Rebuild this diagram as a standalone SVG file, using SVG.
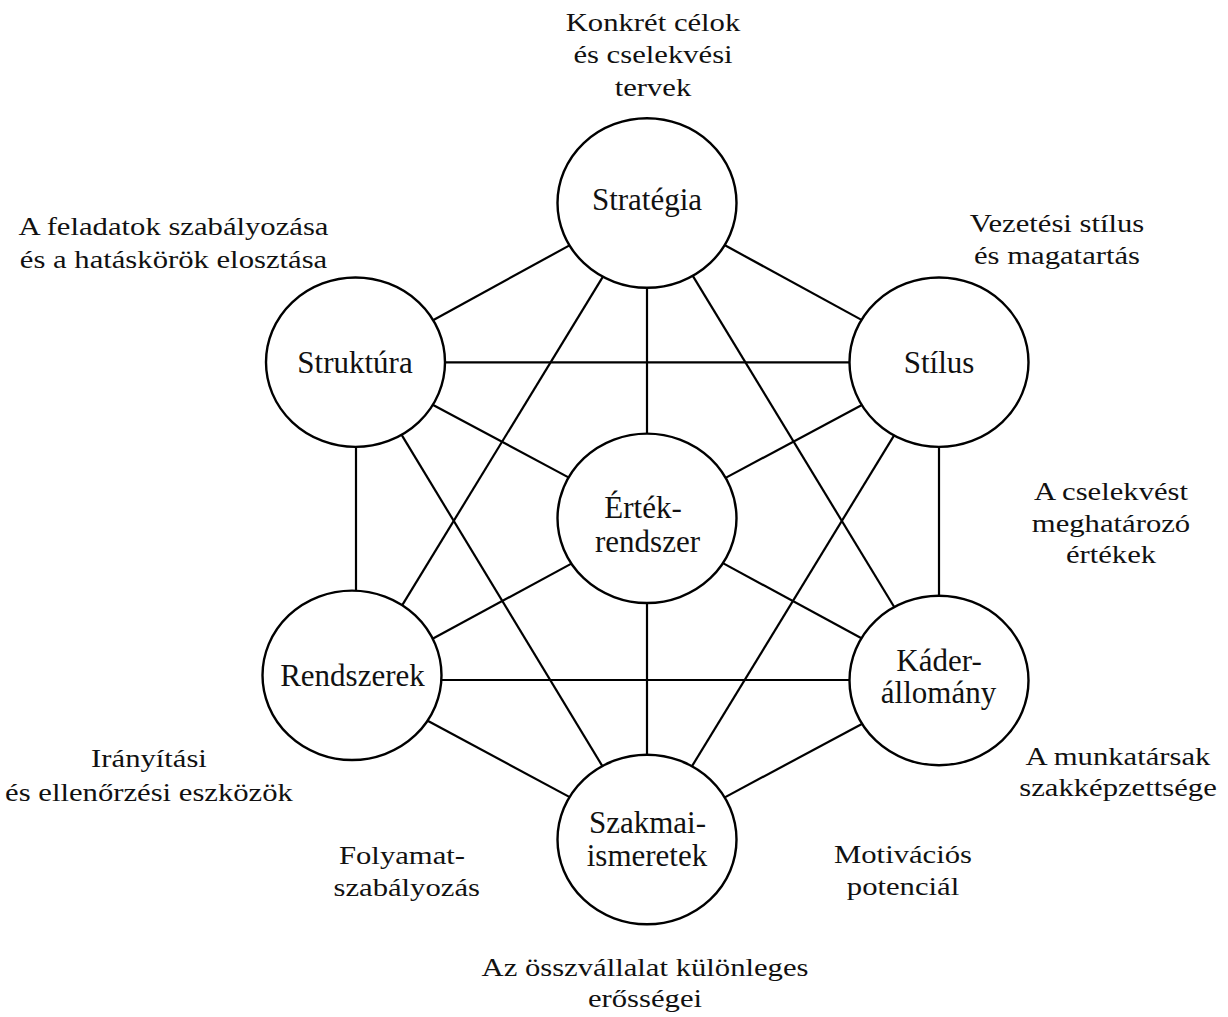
<svg xmlns="http://www.w3.org/2000/svg" width="1228" height="1017" viewBox="0 0 1228 1017">
<style>
  .edge { stroke: #000; stroke-width: 2.2; fill: none; }
  .node ellipse { fill: #fff; stroke: #000; stroke-width: 2.4; }
  .nt { font-family: "Liberation Serif", "Times New Roman", serif; font-size: 31px; fill: #111; text-anchor: middle; }
  .lbl { font-family: "Liberation Serif", "Times New Roman", serif; font-size: 26px; fill: #111; text-anchor: middle; }
</style>
<rect x="0" y="0" width="1228" height="1017" fill="#fff"/>
<g id="connectors">
  <line class="edge" x1="428" y1="323" x2="573.6" y2="243.1"/>
  <line class="edge" x1="720.4" y1="242.8" x2="867" y2="322.9"/>
  <line class="edge" x1="647" y1="282" x2="647" y2="440"/>
  <line class="edge" x1="605.4" y1="272.6" x2="399.2" y2="610.1"/>
  <line class="edge" x1="690.2" y1="271.6" x2="897.1" y2="611.8"/>
  <line class="edge" x1="438" y1="362.3" x2="855" y2="362.3"/>
  <line class="edge" x1="428" y1="402.2" x2="573.6" y2="480.1"/>
  <line class="edge" x1="356" y1="441" x2="356" y2="596"/>
  <line class="edge" x1="398.6" y1="429.9" x2="604.8" y2="770.1"/>
  <line class="edge" x1="867" y1="402.2" x2="721.4" y2="480.1"/>
  <line class="edge" x1="939" y1="441" x2="939" y2="602"/>
  <line class="edge" x1="896.4" y1="431.6" x2="689.6" y2="770.1"/>
  <line class="edge" x1="428" y1="641.2" x2="576" y2="561.1"/>
  <line class="edge" x1="719.7" y1="561.4" x2="867" y2="641.2"/>
  <line class="edge" x1="647" y1="597" x2="647" y2="761"/>
  <line class="edge" x1="436" y1="680" x2="855" y2="680"/>
  <line class="edge" x1="423" y1="718.2" x2="575.3" y2="800.1"/>
  <line class="edge" x1="867" y1="721.2" x2="719.7" y2="800.1"/>
</g>
<g id="strategia" class="node">
  <ellipse cx="647" cy="203" rx="89.5" ry="84.7"/>
  <text class="nt" x="647" y="210">Stratégia</text>
</g>
<g id="struktura" class="node">
  <ellipse cx="355.5" cy="362.2" rx="89.5" ry="84.7"/>
  <text class="nt" x="355" y="373.3">Struktúra</text>
</g>
<g id="stilus" class="node">
  <ellipse cx="939" cy="362.2" rx="89.5" ry="84.7"/>
  <text class="nt" x="939" y="372.7">Stílus</text>
</g>
<g id="ertekrendszer" class="node">
  <ellipse cx="647" cy="518.3" rx="89.5" ry="84.7"/>
  <text class="nt"><tspan x="643" y="518">Érték-</tspan><tspan x="647.5" y="551.7">rendszer</tspan></text>
</g>
<g id="rendszerek" class="node">
  <ellipse cx="352" cy="675.3" rx="89.5" ry="84.7"/>
  <text class="nt" x="352.5" y="686">Rendszerek</text>
</g>
<g id="kaderallomany" class="node">
  <ellipse cx="939" cy="680.5" rx="89.5" ry="84.7"/>
  <text class="nt"><tspan x="939" y="670.7">Káder-</tspan><tspan x="938.5" y="703.3">állomány</tspan></text>
</g>
<g id="szakmai" class="node">
  <ellipse cx="647" cy="839.5" rx="89.5" ry="84.7"/>
  <text class="nt"><tspan x="647.5" y="833.3">Szakmai-</tspan><tspan x="647" y="866">ismeretek</tspan></text>
</g>
<g id="labels">
  <text class="lbl" transform="translate(653,31) scale(1.18,1)"><tspan x="0" y="0">Konkrét célok</tspan><tspan x="0" y="32.5">és cselekvési</tspan><tspan x="0" y="65">tervek</tspan></text>
  <text class="lbl" transform="translate(173.5,235) scale(1.18,1)"><tspan x="0" y="0">A feladatok szabályozása</tspan><tspan x="0" y="32.7">és a hatáskörök elosztása</tspan></text>
  <text class="lbl" transform="translate(1057,231.7) scale(1.18,1)"><tspan x="0" y="0">Vezetési stílus</tspan><tspan x="0" y="32.3">és magatartás</tspan></text>
  <text class="lbl" transform="translate(1111,500) scale(1.18,1)"><tspan x="0" y="0">A cselekvést</tspan><tspan x="0" y="31.7">meghatározó</tspan><tspan x="0" y="63.3">értékek</tspan></text>
  <text class="lbl" transform="translate(1118,765) scale(1.18,1)"><tspan x="0" y="0">A munkatársak</tspan><tspan x="0" y="31">szakképzettsége</tspan></text>
  <text class="lbl" transform="translate(903,863.3) scale(1.18,1)"><tspan x="0" y="0">Motivációs</tspan><tspan x="0" y="31.7">potenciál</tspan></text>
  <text class="lbl" transform="translate(404,864.3) scale(1.18,1)"><tspan x="-1.7" y="0">Folyamat-</tspan><tspan x="2.3" y="31.4">szabályozás</tspan></text>
  <text class="lbl" transform="translate(149,767.3) scale(1.18,1)"><tspan x="0" y="0">Irányítási</tspan><tspan x="0" y="33.4">és ellenőrzési eszközök</tspan></text>
  <text class="lbl" transform="translate(645,976) scale(1.18,1)"><tspan x="0" y="0">Az összvállalat különleges</tspan><tspan x="0" y="31">erősségei</tspan></text>
</g>
</svg>
